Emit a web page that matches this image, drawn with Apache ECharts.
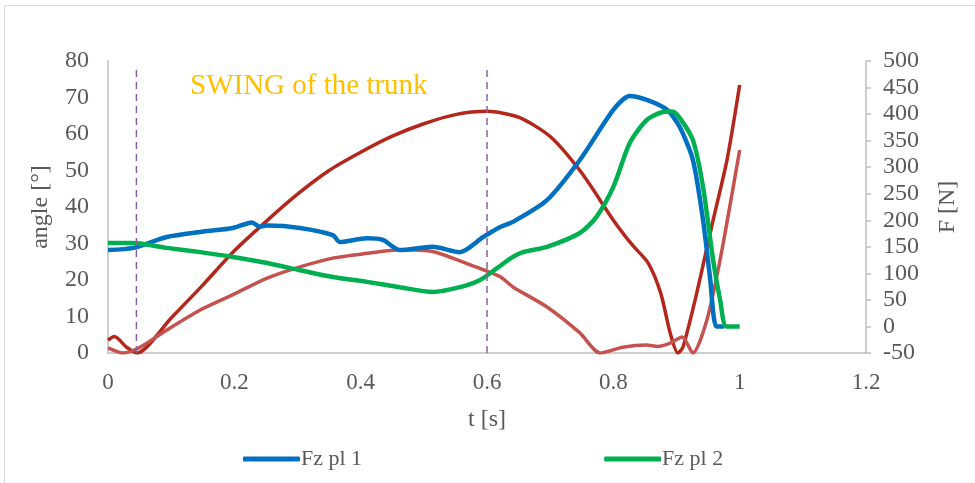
<!DOCTYPE html>
<html>
<head>
<meta charset="utf-8">
<script src="https://cdn.jsdelivr.net/npm/echarts@6/dist/echarts.min.js"></script>
<style>
  html, body { margin: 0; padding: 0; background: #fff; }
  #chart { width: 975px; height: 483px; }
</style>
</head>
<body>
<div id="chart"></div>
<script>
// trunk angles (left axis, degrees)
const tDark = [0, 0.01, 0.03, 0.046, 0.1, 0.15, 0.2, 0.25, 0.3, 0.35, 0.4, 0.45, 0.5, 0.55, 0.6, 0.65, 0.7, 0.75, 0.8, 0.83, 0.855, 0.875, 0.89, 0.902, 0.91, 0.932, 0.958, 0.98, 1.0];
const angleDark = [3.5, 4.5, 1.5, 0, 9.6, 18.6, 28, 36, 43.5, 50, 55, 59.4, 62.8, 65.3, 66.2, 64.6, 59.3, 49.3, 36.4, 29.6, 24.7, 16.4, 5.5, 0, 1.5, 16.4, 36.4, 52.9, 73.4];

const tLight = [0, 0.024, 0.05, 0.093, 0.146, 0.198, 0.252, 0.304, 0.356, 0.41, 0.462, 0.514, 0.568, 0.62, 0.641, 0.695, 0.747, 0.779, 0.815, 0.853, 0.87, 0.89, 0.909, 0.926, 0.948, 0.969, 0.989, 1.0];
const angleLight = [1.4, 0, 1.5, 6.3, 11.8, 16, 20.5, 23.6, 26, 27.3, 28.3, 27.8, 24.5, 21, 18.1, 12.6, 5.5, 0, 1.6, 2.2, 1.8, 2.7, 4.4, 0, 9, 25.5, 44.7, 55.6];

// vertical forces (right axis, N)
const tFz1 = [0, 0.04, 0.093, 0.146, 0.198, 0.228, 0.24, 0.252, 0.304, 0.356, 0.367, 0.41, 0.435, 0.462, 0.514, 0.557, 0.594, 0.62, 0.641, 0.695, 0.747, 0.8, 0.826, 0.853, 0.885, 0.905, 0.926, 0.942, 0.953, 0.963, 0.975];
const fz1 = [144, 148, 168.5, 178, 185.5, 196, 188, 190, 185.5, 172, 159, 166, 163, 144, 150, 140, 168.5, 187, 197, 238, 313.5, 408, 434, 426.6, 408, 376, 313.5, 200.5, 93, 0, 0];

const tFz2 = [0, 0.04, 0.093, 0.146, 0.198, 0.252, 0.304, 0.356, 0.41, 0.462, 0.514, 0.557, 0.589, 0.616, 0.641, 0.657, 0.695, 0.747, 0.773, 0.8, 0.826, 0.853, 0.878, 0.893, 0.905, 0.926, 0.942, 0.958, 0.969, 0.979, 1.0];
const fz2 = [157, 157, 148, 140, 131, 119.5, 106, 93, 84, 74, 65, 74, 87.5, 110, 131, 140, 150, 176, 206, 263, 345.6, 389, 404, 405, 393, 351, 263, 125, 50, 0, 0];

// phase markers
const markerT = [0.045, 0.6];
const markerTop = 78.5;

const xTicks = [0, 0.2, 0.4, 0.6, 0.8, 1, 1.2];

const pairs = (xs, ys) => xs.map((x, i) => [x, ys[i]]);

const markerData = [];
markerT.forEach((t, i) => {
  if (i > 0) markerData.push("-");
  markerData.push([t, 0], [t, markerTop]);
});

const font = "'Liberation Serif', 'Times New Roman', serif";
const textColor = "#595959";
const axisGray = "#bfbfbf";

const chart = echarts.init(document.getElementById("chart"));

const option = {
  animation: false,
  backgroundColor: "#fff",
  textStyle: { fontFamily: font },
  grid: { left: 108, right: 109, top: 61, bottom: 130, containLabel: false },
  legend: {
    data: ["Fz pl 1", "Fz pl 2"],
    icon: "roundRect",
    left: 243,
    top: 448,
    padding: 0,
    itemWidth: 57,
    itemHeight: 5,
    itemGap: 242,
    textStyle: { fontFamily: font, fontSize: 22, color: textColor, padding: [0, 0, 0, -4] },
  },
  xAxis: {
    type: "value",
    min: xTicks[0],
    max: xTicks[xTicks.length - 1],
    interval: 0.2,
    name: "t [s]",
    nameLocation: "middle",
    nameGap: 55,
    nameTextStyle: { fontFamily: font, fontSize: 24, color: textColor },
    axisLine: { onZero: false, lineStyle: { color: axisGray, width: 1.5 } },
    axisTick: { show: false },
    splitLine: { show: false },
    axisLabel: { fontFamily: font, fontSize: 23, color: textColor, margin: 18 },
  },
  yAxis: [
    {
      type: "value",
      position: "left",
      min: 0,
      max: 80,
      interval: 10,
      name: "angle [°]",
      nameLocation: "middle",
      nameRotate: 90,
      nameGap: 55,
      nameTextStyle: { fontFamily: font, fontSize: 24, color: textColor },
      axisLine: { show: true, lineStyle: { color: axisGray, width: 1.5 } },
      axisTick: { show: false },
      splitLine: { show: false },
      axisLabel: { fontFamily: font, fontSize: 24, color: textColor, margin: 19 },
    },
    {
      type: "value",
      position: "right",
      min: -50,
      max: 500,
      interval: 50,
      name: "F [N]",
      nameLocation: "middle",
      nameRotate: 90,
      nameGap: 70,
      nameTextStyle: { fontFamily: font, fontSize: 24, color: textColor },
      axisLine: { show: true, lineStyle: { color: axisGray, width: 1.5 } },
      axisTick: { show: true, length: 5, lineStyle: { color: axisGray, width: 1.5 } },
      splitLine: { show: false },
      axisLabel: { fontFamily: font, fontSize: 24, color: textColor, margin: 17 },
    },
  ],
  graphic: [
    {
      type: "rect",
      silent: true,
      shape: { x: 4.5, y: 5.5, width: 1200, height: 700 },
      style: { fill: "none", stroke: "#d9d9d9", lineWidth: 1 },
    },
    {
      type: "text",
      left: 190,
      top: 72,
      silent: true,
      style: {
        text: "SWING of the trunk",
        fill: "#ffc000",
        font: "29px 'Liberation Serif', 'Times New Roman', serif",
      },
    },
  ],
  series: [
    {
      name: "angle 1",
      type: "line",
      yAxisIndex: 0,
      data: pairs(tDark, angleDark),
      symbol: "none",
      smooth: 0.25,
      lineStyle: { color: "#b3271c", width: 3.5 },
      z: 2,
    },
    {
      name: "angle 2",
      type: "line",
      yAxisIndex: 0,
      data: pairs(tLight, angleLight),
      symbol: "none",
      smooth: 0.25,
      lineStyle: { color: "#c5524f", width: 3.5 },
      z: 3,
    },
    {
      name: "Fz pl 1",
      type: "line",
      yAxisIndex: 1,
      data: pairs(tFz1, fz1),
      symbol: "none",
      smooth: 0.25,
      color: "#0070c0",
      lineStyle: { color: "#0070c0", width: 4.5 },
      z: 4,
    },
    {
      name: "Fz pl 2",
      type: "line",
      yAxisIndex: 1,
      data: pairs(tFz2, fz2),
      symbol: "none",
      smooth: 0.25,
      color: "#00b050",
      lineStyle: { color: "#00b050", width: 4.5 },
      z: 5,
    },
    {
      name: "markers",
      type: "line",
      yAxisIndex: 0,
      data: markerData,
      symbol: "none",
      connectNulls: false,
      lineStyle: { color: "#8064a2", width: 1.5, type: [7, 5] },
      z: 6,
    },
  ],
};

chart.setOption(option);
</script>
</body>
</html>
